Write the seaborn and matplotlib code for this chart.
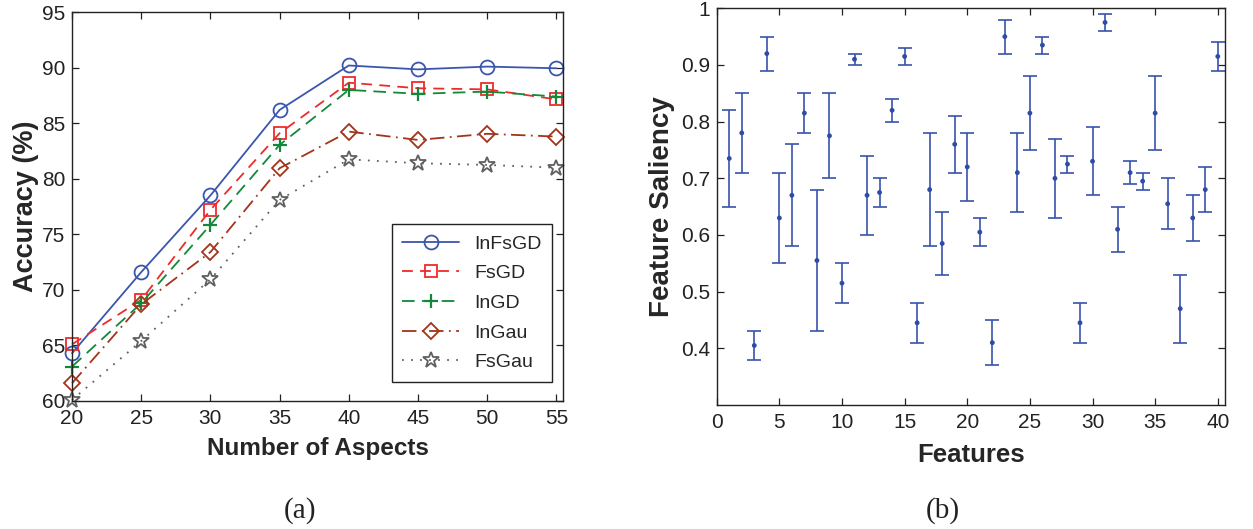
import numpy as np
import pandas as pd
import matplotlib
matplotlib.use("Agg")
import matplotlib.pyplot as plt
import seaborn as sns

# Panel (a): accuracy versus number of aspects
aspects = [20, 25, 30, 35, 40, 45, 50, 55]
acc_infsgd = [64.3, 71.6, 78.5, 86.2, 90.2, 89.85, 90.1, 89.95]
acc_fsgd = [65.1, 69.1, 77.2, 84.1, 88.65, 88.15, 88.05, 87.15]
acc_ingd = [63.1, 68.8, 75.85, 83.05, 88.0, 87.65, 87.85, 87.4]
acc_ingau = [61.6, 68.7, 73.4, 80.95, 84.25, 83.5, 84.05, 83.8]
acc_fsgau = [60.1, 65.4, 70.95, 78.1, 81.75, 81.4, 81.25, 81.0]
method_names = ["InFsGD", "FsGD", "InGD", "InGau", "FsGau"]

# Panel (b): feature saliency with lower / upper bounds
features = list(range(1, 41))
saliency = [0.735, 0.78, 0.405, 0.92, 0.63, 0.67, 0.815, 0.555, 0.775, 0.515,
            0.91, 0.67, 0.675, 0.82, 0.915, 0.445, 0.68, 0.585, 0.76, 0.72,
            0.605, 0.41, 0.95, 0.71, 0.815, 0.935, 0.70, 0.725, 0.445, 0.73,
            0.975, 0.61, 0.71, 0.695, 0.815, 0.655, 0.47, 0.63, 0.68, 0.915]
sal_low = [0.65, 0.71, 0.38, 0.89, 0.55, 0.58, 0.78, 0.43, 0.70, 0.48,
           0.90, 0.60, 0.65, 0.80, 0.90, 0.41, 0.58, 0.53, 0.71, 0.66,
           0.58, 0.37, 0.92, 0.64, 0.75, 0.92, 0.63, 0.71, 0.41, 0.67,
           0.96, 0.57, 0.69, 0.68, 0.75, 0.61, 0.41, 0.59, 0.64, 0.89]
sal_high = [0.82, 0.85, 0.43, 0.95, 0.71, 0.76, 0.85, 0.68, 0.85, 0.55,
            0.92, 0.74, 0.70, 0.84, 0.93, 0.48, 0.78, 0.64, 0.81, 0.78,
            0.63, 0.45, 0.98, 0.78, 0.88, 0.95, 0.77, 0.74, 0.48, 0.79,
            0.99, 0.65, 0.73, 0.71, 0.88, 0.70, 0.53, 0.67, 0.72, 0.94]

sns.set_theme(style="white")
plt.rcParams["font.family"] = ["Liberation Sans", "DejaVu Sans"]
plt.rcParams["axes.edgecolor"] = "#222222"
plt.rcParams["axes.linewidth"] = 1.0

fig = plt.figure(figsize=(12.53, 5.29), dpi=100)
ax1 = fig.add_axes([0.0575, 0.242, 0.392, 0.735])
ax2 = fig.add_axes([0.572, 0.2344, 0.4057, 0.750])

acc_df = pd.DataFrame({
    "aspects": aspects * 5,
    "accuracy": acc_infsgd + acc_fsgd + acc_ingd + acc_ingau + acc_fsgau,
    "method": np.repeat(method_names, len(aspects)),
})

styles = {
    "InFsGD": dict(color="#3a56ad", marker="o", ls="-", ms=10, mew=1.3),
    "FsGD": dict(color="#ee2b2b", marker="s", ls=(0, (6, 4)), ms=8, mew=1.3),
    "InGD": dict(color="#13883a", marker="+", ls=(0, (7, 4)), ms=10, mew=1.6),
    "InGau": dict(color="#a3341a", marker="D", ls=(0, (8, 3, 1, 3)), ms=8, mew=1.3),
    "FsGau": dict(color="#606060", marker="*", ls=(0, (1, 4)), ms=12, mew=1.3),
}

for name in method_names:
    st = styles[name]
    sub = acc_df[acc_df["method"] == name]
    sns.lineplot(data=sub, x="aspects", y="accuracy", ax=ax1, label=name,
                 color=st["color"], linestyle=st["ls"], linewidth=1.3,
                 marker=st["marker"], markersize=st["ms"],
                 markerfacecolor="none", markeredgecolor=st["color"],
                 markeredgewidth=st["mew"], clip_on=False)

ax1.set_xlim(20, 55.5)
ax1.set_ylim(60, 95)
ax1.set_xticks(range(20, 56, 5))
ax1.set_yticks(range(60, 96, 5))
ax1.set_xlabel("Number of Aspects", fontsize=17.5, fontweight="bold", labelpad=6)
ax1.set_ylabel("Accuracy (%)", fontsize=19.5, fontweight="bold", labelpad=2)
leg = ax1.legend(loc="lower right", bbox_to_anchor=(0.978, 0.049),
                 borderaxespad=0, fontsize=14, frameon=True, fancybox=False,
                 edgecolor="#222222", framealpha=1, handlelength=2.9,
                 labelspacing=0.62, borderpad=0.55)
leg.get_frame().set_linewidth(1.0)

# Feature saliency with error bars
sns.scatterplot(x=features, y=saliency, ax=ax2, color="#2e4ba6", s=12,
                edgecolor="none", zorder=3)
err = np.array([np.array(saliency) - np.array(sal_low),
                np.array(sal_high) - np.array(saliency)])
ax2.errorbar(features, saliency, yerr=err, fmt="none", ecolor="#3853ad",
             elinewidth=1.2, capsize=5, capthick=1.2)
ax2.set_xlim(0, 40.58)
ax2.set_ylim(0.3, 1.0)
ax2.set_xticks(range(0, 41, 5))
ax2.set_yticks([0.4, 0.5, 0.6, 0.7, 0.8, 0.9, 1.0])
ax2.set_yticklabels(["0.4", "0.5", "0.6", "0.7", "0.8", "0.9", "1"])
ax2.set_xlabel("Features", fontsize=18.5, fontweight="bold", labelpad=8)
ax2.set_ylabel("Feature Saliency", fontsize=20, fontweight="bold", labelpad=4)

for ax in (ax1, ax2):
    ax.tick_params(direction="in", length=5, width=0.9, top=True, right=True,
                   bottom=True, left=True, labelsize=15, colors="#222222")
    ax.tick_params(axis="x", pad=6)
    ax.tick_params(axis="y", pad=5)
    for sp in ax.spines.values():
        sp.set_visible(True)
        sp.set_color("#222222")

fig.text(0.2394, 0.035, "(a)", ha="center", va="center", fontsize=21,
         family=["Liberation Serif", "DejaVu Serif"], color="#222222")
fig.text(0.7526, 0.035, "(b)", ha="center", va="center", fontsize=21,
         family=["Liberation Serif", "DejaVu Serif"], color="#222222")

fig.savefig("out.png", dpi=100)
